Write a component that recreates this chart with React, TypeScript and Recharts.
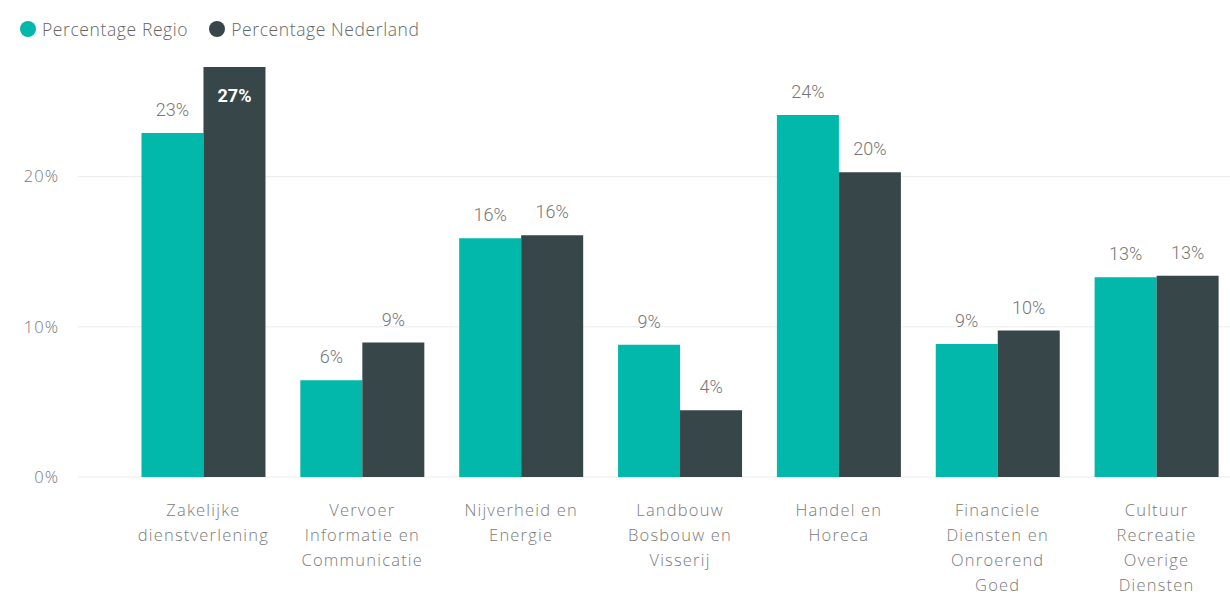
import React from "react";
import { BarChart, Bar, XAxis, YAxis, CartesianGrid, Legend, LabelList } from "recharts";

const categoryLines: string[][] = [
  ["Zakelijke", "dienstverlening"],
  ["Vervoer", "Informatie en", "Communicatie"],
  ["Nijverheid en", "Energie"],
  ["Landbouw", "Bosbouw en", "Visserij"],
  ["Handel en", "Horeca"],
  ["Financiele", "Diensten en", "Onroerend", "Goed"],
  ["Cultuur", "Recreatie", "Overige", "Diensten"],
];
const categories = categoryLines.map((l) => l.join(" "));
const regio = [22.9, 6.45, 15.9, 8.8, 24.1, 8.85, 13.3];
const nederland = [27.3, 8.95, 16.1, 4.45, 20.3, 9.75, 13.4];
const yTicks = [0, 10, 20];
const seriesNames = ["Percentage Regio", "Percentage Nederland"];
const colors = ["#01B8AA", "#374649"];

const data = categories.map((c, i) => ({ name: c, regio: regio[i], nederland: nederland[i] }));
const maxVal = Math.max(...regio, ...nederland);

const AXIS_FONT = "'Open Sans', 'Noto Sans', sans-serif";
const LABEL_FONT = "Roboto, 'Noto Sans', sans-serif";

const XTick = (props: any) => {
  const { x, y, payload } = props;
  const lines = categoryLines[payload.index] || [String(payload.value)];
  return (
    <text
      x={x}
      y={y + 39}
      textAnchor="middle"
      fill="#7a7a7a"
      fontFamily={AXIS_FONT}
      fontWeight={300}
      fontSize={16.5}
      letterSpacing={1.2}
    >
      {lines.map((l, i) => (
        <tspan key={i} x={x} dy={i === 0 ? 0 : 25}>
          {l}
        </tspan>
      ))}
    </text>
  );
};

const BarLabel = (props: any) => {
  const { x, y, width, value } = props;
  const cx = x + width / 2;
  const txt = `${Math.round(value)}%`;
  if (value >= maxVal) {
    return (
      <text x={cx} y={y + 35} textAnchor="middle" fill="#ffffff" fontWeight="bold" fontFamily={LABEL_FONT} fontSize={18}>
        {txt}
      </text>
    );
  }
  return (
    <text x={cx} y={y - 17} textAnchor="middle" fill="#777" fontWeight={300} fontFamily={LABEL_FONT} fontSize={18}>
      {txt}
    </text>
  );
};

const LegendContent = () => (
  <div
    style={{
      display: "flex",
      alignItems: "center",
      height: 40,
      fontFamily: AXIS_FONT,
      fontWeight: 300,
      fontSize: 17.5,
      letterSpacing: 0.6,
      color: "#666",
    }}
  >
    {seriesNames.map((n, i) => (
      <div key={n} style={{ display: "flex", alignItems: "center", marginLeft: i === 0 ? 20 : 21 }}>
        <span
          style={{ display: "inline-block", width: 16, height: 16, borderRadius: "50%", background: colors[i], marginRight: 6 }}
        />
        <span>{n}</span>
      </div>
    ))}
  </div>
);

export default function App() {
  return (
    <div style={{ position: "absolute", left: 0, top: 0, width: 1230, height: 597, overflow: "hidden", background: "#fff" }}>
      <BarChart
        width={1240}
        height={597}
        data={data}
        margin={{ top: 27, right: 4, bottom: 0, left: 0 }}
        barCategoryGap="11%"
        barGap={0}
      >
        <Legend verticalAlign="top" align="left" content={<LegendContent />} wrapperStyle={{ top: 9, left: 0 }} height={40} />
        <CartesianGrid vertical={false} stroke="#ececec" horizontalValues={yTicks} />
        <XAxis
          dataKey="name"
          axisLine={false}
          tickLine={false}
          tickSize={0}
          tickMargin={0}
          interval={0}
          height={120}
          padding={{ left: 46, right: 0 }}
          tick={<XTick />}
        />
        <YAxis
          width={78}
          domain={[0, "dataMax"]}
          ticks={yTicks}
          tickFormatter={(v: number) => `${v}%`}
          axisLine={false}
          tickLine={false}
          tickSize={0}
          tickMargin={19}
          tick={{ fill: "#777", fontFamily: AXIS_FONT, fontWeight: 300, fontSize: 16.5, letterSpacing: 1 }}
        />
        <Bar dataKey="regio" name={seriesNames[0]} fill={colors[0]} isAnimationActive={false}>
          <LabelList dataKey="regio" content={<BarLabel />} />
        </Bar>
        <Bar dataKey="nederland" name={seriesNames[1]} fill={colors[1]} isAnimationActive={false}>
          <LabelList dataKey="nederland" content={<BarLabel />} />
        </Bar>
      </BarChart>
    </div>
  );
}
